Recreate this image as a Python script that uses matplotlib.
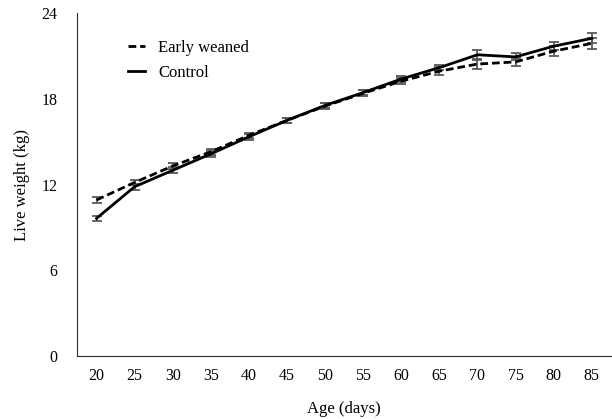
import matplotlib
matplotlib.use("Agg")
import matplotlib.pyplot as plt
from matplotlib.lines import Line2D
import numpy as np

plt.rcParams['font.family'] = ['Liberation Serif', 'DejaVu Serif']

ages = [20, 25, 30, 35, 40, 45, 50, 55, 60, 65, 70, 75, 80, 85]
early = [10.92, 12.15, 13.3, 14.3, 15.45, 16.5, 17.5, 18.4, 19.25, 19.95, 20.45, 20.6, 21.35, 21.9]
early_err = [0.2, 0.2, 0.2, 0.2, 0.2, 0.2, 0.2, 0.2, 0.2, 0.3, 0.35, 0.3, 0.35, 0.4]
control = [9.63, 11.85, 13.0, 14.15, 15.35, 16.5, 17.55, 18.45, 19.4, 20.2, 21.1, 20.95, 21.7, 22.25]
control_err = [0.15, 0.2, 0.2, 0.2, 0.2, 0.2, 0.2, 0.2, 0.2, 0.2, 0.35, 0.25, 0.3, 0.35]

DASH = (0, (2.8, 1.4))

fig = plt.figure(figsize=(6.12, 4.19), dpi=100)
ax = fig.add_axes([0.1266, 0.151, 0.8714, 0.817])
x = np.arange(len(ages))

ax.errorbar(x, early, yerr=early_err, color='black', ls=DASH, lw=2,
            ecolor='#5a5a5a', elinewidth=1.3, capsize=3.5, capthick=1.3, label='Early weaned')
ax.errorbar(x, control, yerr=control_err, color='black', ls='-', lw=2,
            ecolor='#5a5a5a', elinewidth=1.3, capsize=3.5, capthick=1.3, label='Control')

ax.set_xlim(-0.5, len(ages) - 0.5)
ax.set_ylim(0, 24)
ax.set_yticks([0, 6, 12, 18, 24])
ax.set_xticks(x)
ax.set_xticklabels([str(a) for a in ages])
ax.tick_params(axis='both', length=0, labelsize=11.5)
ax.tick_params(axis='x', pad=9)
ax.tick_params(axis='y', pad=14.5)
ax.spines['top'].set_visible(False)
ax.spines['right'].set_visible(False)
ax.spines['left'].set_color('#303030')
ax.spines['bottom'].set_color('#303030')
ax.set_xlabel('Age (days)', fontsize=12, labelpad=12)
ax.set_ylabel('Live weight (kg)', fontsize=12, labelpad=8)

h = [Line2D([], [], color='black', ls=DASH, lw=2), Line2D([], [], color='black', ls='-', lw=2)]
fig.legend(h, ['Early weaned', 'Control'], loc='upper left',
           bbox_to_anchor=(128 / 612, 1 - 40 / 419), bbox_transform=fig.transFigure,
           frameon=False, fontsize=12, handlelength=1.02, handletextpad=0.78,
           labelspacing=0.55, borderpad=0, borderaxespad=0)

fig.savefig('out.png', dpi=100)
